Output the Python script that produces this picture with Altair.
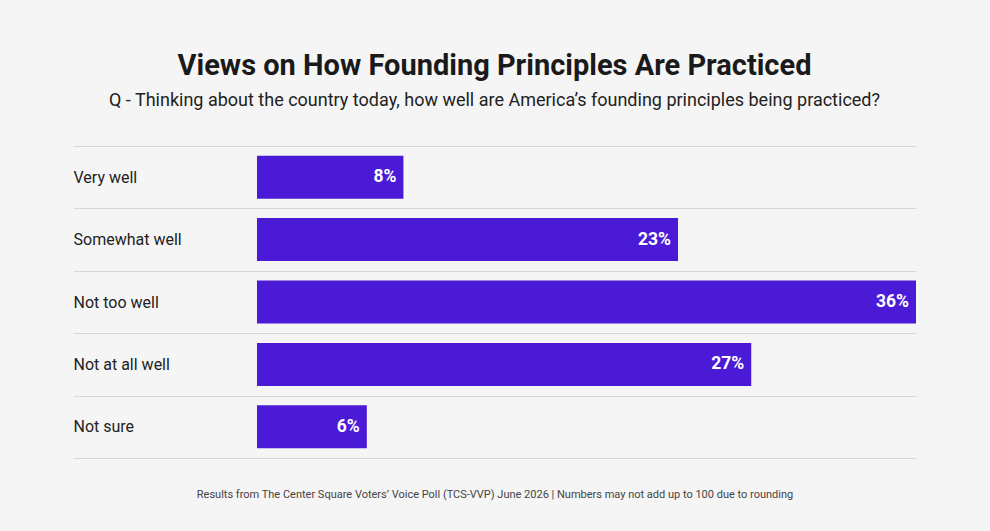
import altair as alt
import pandas as pd

categories = ["Very well", "Somewhat well", "Not too well", "Not at all well", "Not sure"]
values = [8, 23, 36, 27, 6]
value_labels = ["8%", "23%", "36%", "27%", "6%"]

df = pd.DataFrame({"cat": categories, "val": values, "lab": value_labels})

FONT = "Roboto"
BAR = "#4B1AD6"

y_enc = alt.Y(
    "cat:N",
    sort=categories,
    scale=alt.Scale(paddingInner=0, paddingOuter=0),
    axis=alt.Axis(
        title=None,
        grid=True,
        tickBand="extent",
        gridColor="#d8d8d8",
        gridWidth=1,
        domain=False,
        ticks=False,
        tickSize=0,
        labelAlign="left",
        labelPadding=0,
        labelFont=FONT,
        labelFontSize=16,
        labelColor="#222222",
        labelLimit=200,
    ),
)

x_enc = alt.X(
    "val:Q",
    scale=alt.Scale(domain=[-10.05, 36], nice=False, zero=False),
    axis=alt.Axis(
        title="Results from The Center Square Voters\u2019 Voice Poll (TCS-VVP) June 2026 | Numbers may not add up to 100 due to rounding",
        titleFont=FONT,
        titleFontSize=11,
        titleFontWeight="normal",
        titleColor="#444444",
        titlePadding=30,
        labels=False,
        ticks=False,
        domain=False,
        grid=False,
    ),
)

bars = alt.Chart(df).mark_bar(color=BAR, size=43).encode(
    x=x_enc,
    x2=alt.datum(0),
    y=y_enc,
)

texts = alt.Chart(df).mark_text(
    align="right", baseline="middle", dx=-7, color="white",
    font=FONT, fontSize=17.5, fontWeight="bold",
).encode(
    x=alt.X("val:Q"),
    y=alt.Y("cat:N", sort=categories),
    text="lab:N",
)

chart = (
    alt.layer(bars, texts)
    .properties(
        width=843,
        height=312,
        background="#f5f5f5",
        autosize=alt.AutoSizeParams(type="none"),
        padding={"left": 73, "top": 146, "right": 74, "bottom": 73},
        title=alt.TitleParams(
            text="Views on How Founding Principles Are Practiced",
            subtitle="Q - Thinking about the country today, how well are America\u2019s founding principles being practiced?",
            anchor="middle",
            font=FONT,
            fontSize=29,
            fontWeight="bold",
            color="#1a1a1a",
            subtitleFont=FONT,
            subtitleFontSize=18,
            subtitleColor="#222222",
            subtitlePadding=11,
            offset=28,
        ),
    )
    .configure_view(stroke=None)
)

chart.save("out.html", embed_options={"renderer": "svg", "actions": False})
